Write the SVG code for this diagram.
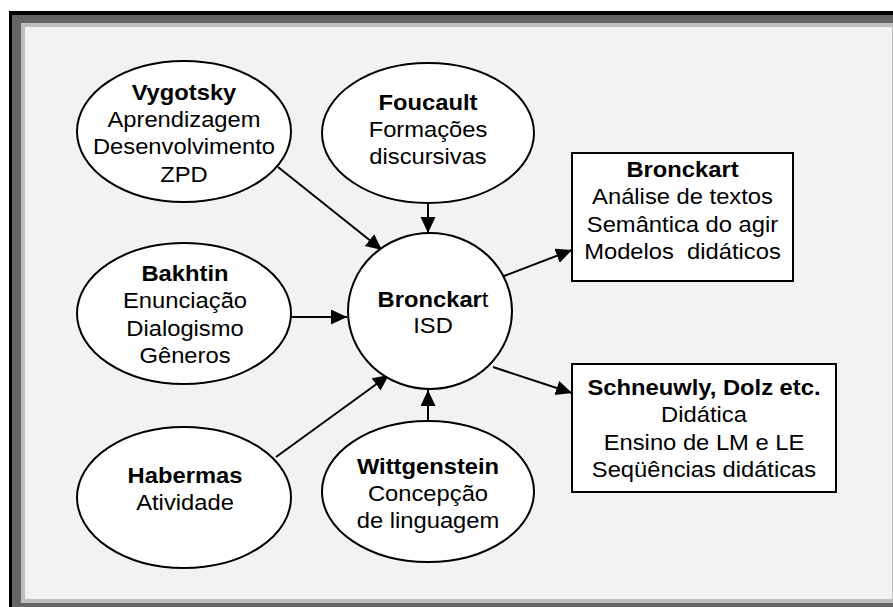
<svg xmlns="http://www.w3.org/2000/svg" width="893" height="607" viewBox="0 0 893 607">
<style>
.nd{fill:#fff;stroke:#000;stroke-width:2}
.t{font-family:"Liberation Sans",Arial,sans-serif;font-size:22px;fill:#000;text-anchor:middle}
.b{font-weight:bold}
.c{stroke:#000;stroke-width:2;fill:none;marker-end:url(#ah)}
</style>
<defs>
<marker id="ah" markerUnits="userSpaceOnUse" markerWidth="17" markerHeight="16" refX="16" refY="7.5" orient="auto">
<path d="M0,0 L16,7.5 L0,15 z" fill="#000"/>
</marker>
</defs>
<g id="frame">
<rect x="9" y="11" width="900" height="600" fill="#000"/>
<rect x="12" y="15" width="900" height="600" fill="#646464"/>
<rect x="21" y="23" width="875" height="580" fill="#bfbfbf"/>
<rect x="25" y="27" width="867" height="572" fill="#f2f2f2"/>
</g>
<g id="connectors">
<line class="c" x1="278" y1="167" x2="382" y2="250"/>
<line class="c" x1="428" y1="203" x2="428" y2="233"/>
<line class="c" x1="291" y1="317" x2="347" y2="317"/>
<line class="c" x1="276" y1="457" x2="389" y2="375"/>
<line class="c" x1="428" y1="421" x2="428" y2="390"/>
<line class="c" x1="504" y1="276" x2="572" y2="250"/>
<line class="c" x1="493" y1="367" x2="572" y2="393"/>
</g>
<g id="vygotsky">
<ellipse class="nd" cx="184" cy="131.5" rx="107" ry="70.5"/>
<g transform="translate(184 0) scale(1.08 1)"><text class="t"><tspan class="b" x="0" y="100">Vygotsky</tspan><tspan x="0" y="127.3">Aprendizagem</tspan><tspan x="0" y="154.3">Desenvolvimento</tspan><tspan x="0" y="181.7">ZPD</tspan></text></g>
</g>
<g id="foucault">
<ellipse class="nd" cx="428" cy="133" rx="106" ry="70"/>
<g transform="translate(428 0) scale(1.08 1)"><text class="t"><tspan class="b" x="0" y="110">Foucault</tspan><tspan x="0" y="136.7">Formações</tspan><tspan x="0" y="164">discursivas</tspan></text></g>
</g>
<g id="bakhtin">
<ellipse class="nd" cx="184" cy="313.5" rx="107" ry="70.5"/>
<g transform="translate(185 0) scale(1.08 1)"><text class="t"><tspan class="b" x="0" y="280.7">Bakhtin</tspan><tspan x="0" y="308.3">Enunciação</tspan><tspan x="0" y="335.7">Dialogismo</tspan><tspan x="0" y="363.3">Gêneros</tspan></text></g>
</g>
<g id="habermas">
<ellipse class="nd" cx="184" cy="497.5" rx="107" ry="70.5"/>
<g transform="translate(185 0) scale(1.08 1)"><text class="t"><tspan class="b" x="0" y="483.3">Habermas</tspan><tspan x="0" y="510.5">Atividade</tspan></text></g>
</g>
<g id="wittgenstein">
<ellipse class="nd" cx="428" cy="491.5" rx="106" ry="70.5"/>
<g transform="translate(428 0) scale(1.08 1)"><text class="t"><tspan class="b" x="0" y="474">Wittgenstein</tspan><tspan x="0" y="500.7">Concepção</tspan><tspan x="0" y="528">de linguagem</tspan></text></g>
</g>
<g id="bronckart-isd">
<ellipse class="nd" cx="430" cy="311" rx="82" ry="78"/>
<g transform="translate(433 0) scale(1.08 1)"><text class="t"><tspan x="0" y="306.7"><tspan class="b">Bronckar</tspan>t</tspan><tspan x="0" y="333.3">ISD</tspan></text></g>
</g>
<g id="bronckart">
<rect class="nd" x="572" y="153" width="221" height="128"/>
<g transform="translate(682.5 0) scale(1.08 1)"><text class="t" xml:space="preserve"><tspan class="b" x="0" y="176.7">Bronckart</tspan><tspan x="0" y="204.3">Análise de textos</tspan><tspan x="0" y="231.7">Semântica do agir</tspan><tspan x="0" y="259">Modelos  didáticos</tspan></text></g>
</g>
<g id="schneuwly">
<rect class="nd" x="572" y="364" width="264" height="128"/>
<g transform="translate(704 0) scale(1.08 1)"><text class="t"><tspan class="b" x="0" y="395">Schneuwly, Dolz etc.</tspan><tspan x="0" y="422.3">Didática</tspan><tspan x="0" y="450">Ensino de LM e LE</tspan><tspan x="0" y="477.5">Seqüências didáticas</tspan></text></g>
</g>
</svg>
